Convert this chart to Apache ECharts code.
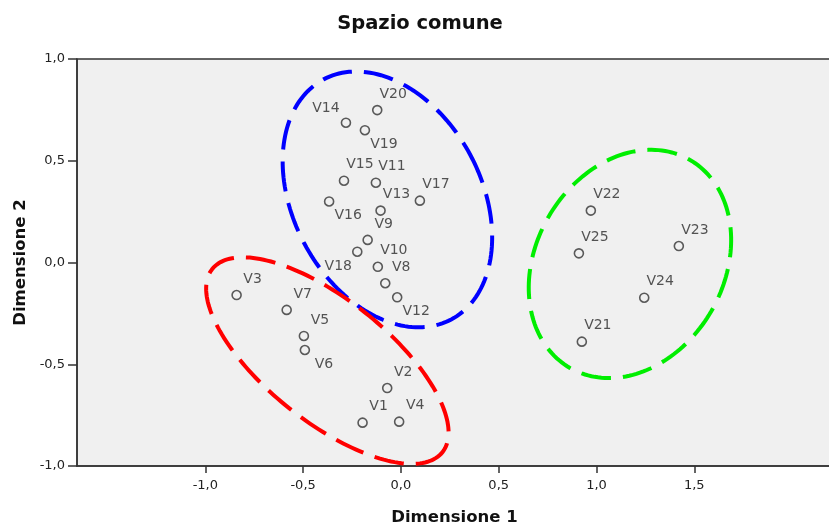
<!DOCTYPE html>
<html>
<head>
<meta charset="utf-8">
<script src="https://cdn.jsdelivr.net/npm/echarts@6/dist/echarts.min.js"></script>
<style>
  html, body { margin: 0; padding: 0; background: #fff; }
  #main { width: 829px; height: 526px; }
</style>
</head>
<body>
<div id="main"></div>
<script>
// stimoli (V1..V25) e coordinate nello spazio comune
let names = ['V1','V2','V3','V4','V5','V6','V7','V8','V9','V10','V11','V12','V13',
             'V14','V15','V16','V17','V18','V19','V20','V21','V22','V23','V24','V25'];
let dim1 = [-0.196, -0.070, -0.840, -0.009, -0.496, -0.491, -0.584, -0.080, -0.170, -0.118,
            -0.128, -0.019, -0.104, -0.281, -0.291, -0.367,  0.097, -0.223, -0.184, -0.121,
             0.925,  0.971,  1.421,  1.244,  0.910];
let dim2 = [-0.787, -0.617, -0.160, -0.782, -0.361, -0.430, -0.233, -0.102,  0.111, -0.021,
             0.392, -0.171,  0.255,  0.687,  0.402,  0.300,  0.304,  0.053,  0.650,  0.749,
            -0.389,  0.255,  0.081, -0.173,  0.045];
let xTicks = [-1.0, -0.5, 0.0, 0.5, 1.0, 1.5];

// dove mettere l'etichetta (ur = sopra a destra ecc.)
let labelWhere = {V14: 'ul', V19: 'lr', V16: 'lr', V18: 'll', V12: 'lr', V6: 'lr'};
let offsets = {ur: [16, -16], ul: [-20, -14], lr: [19, 14], ll: [-19, 15]};

// gruppi cerchiati: centro, semiassi (in unita' degli assi), rotazione in gradi
let groupCx  = [-0.069, -0.376, 1.171];
let groupCy  = [ 0.310, -0.482, -0.007];
let groupRx  = [ 0.481,  0.752, 0.481];
let groupRy  = [ 0.668,  0.300, 0.590];
let groupRot = [-28, 38.5, 30];
let groupColor = ['#0000ff', '#ff0000', '#00ee00'];

let points = [];
for (let i = 0; i < names.length; i++) {
    let where = labelWhere[names[i]] || 'ur';
    points.push({
        name: names[i],
        value: [dim1[i], dim2[i]],
        label: { offset: offsets[where] }
    });
}

let groups = [];
for (let i = 0; i < groupCx.length; i++) {
    groups.push([groupCx[i], groupCy[i]]);
}

function fmt(v) {
    return v.toFixed(1).replace('.', ',');
}

function drawEllipse(params, api) {
    let i = params.dataIndex;
    let c = api.coord([api.value(0), api.value(1)]);
    let rx = api.size([groupRx[i], 0])[0];
    let ry = api.size([0, groupRy[i]])[1];
    let th = groupRot[i] * Math.PI / 180;
    let pts = [];
    for (let k = 0; k < 180; k++) {
        let t = k / 180 * Math.PI * 2;
        let px = rx * Math.cos(t), py = ry * Math.sin(t);
        pts.push([c[0] + px * Math.cos(th) - py * Math.sin(th),
                  c[1] + px * Math.sin(th) + py * Math.cos(th)]);
    }
    return {
        type: 'polygon',
        shape: { points: pts },
        style: { fill: 'none', stroke: groupColor[i], lineWidth: 4, lineDash: [30, 12] }
    };
}

let font = 'DejaVu Sans';
let chart = echarts.init(document.getElementById('main'));
let option = {
    animation: false,
    backgroundColor: '#ffffff',
    title: {
        text: 'Spazio comune',
        left: 415,
        textAlign: 'center',
        top: 9,
        textStyle: { fontFamily: font, fontWeight: 'bold', fontSize: 19.5, color: '#111' }
    },
    grid: {
        left: 77, right: -3, top: 59, bottom: 60,
        outerBoundsMode: 'none',
        show: true, backgroundColor: '#f0f0f0', borderColor: '#333', borderWidth: 1.5
    },
    xAxis: {
        type: 'value',
        min: -1.656, max: 2.204,
        name: 'Dimensione 1',
        nameLocation: 'middle',
        nameGap: 43,
        nameTextStyle: { fontFamily: font, fontWeight: 'bold', fontSize: 16.5, color: '#111' },
        axisLine: { onZero: false, lineStyle: { color: '#333', width: 1.5 } },
        axisTick: { customValues: xTicks, length: 7, lineStyle: { color: '#333', width: 1.5 } },
        axisLabel: {
            customValues: xTicks, formatter: fmt, margin: 13,
            fontFamily: font, fontSize: 13, color: '#222'
        },
        splitLine: { show: false }
    },
    yAxis: {
        type: 'value',
        min: -1, max: 1, interval: 0.5,
        name: 'Dimensione 2',
        nameLocation: 'middle',
        nameGap: 45,
        nameTextStyle: { fontFamily: font, fontWeight: 'bold', fontSize: 16.5, color: '#111' },
        axisLine: { onZero: false, lineStyle: { color: '#333', width: 1.5 } },
        axisTick: { length: 9, lineStyle: { color: '#333', width: 1.5 } },
        axisLabel: { formatter: fmt, margin: 12, fontFamily: font, fontSize: 13, color: '#222' },
        splitLine: { show: false }
    },
    series: [
        {
            type: 'custom',
            coordinateSystem: 'cartesian2d',
            renderItem: drawEllipse,
            data: groups,
            silent: true,
            z: 1
        },
        {
            type: 'scatter',
            data: points,
            symbol: 'circle',
            symbolSize: 9,
            itemStyle: { color: 'rgba(0,0,0,0)', borderColor: '#333', borderWidth: 1.6 },
            label: {
                show: true,
                formatter: '{b}',
                position: 'inside',
                align: 'center',
                verticalAlign: 'middle',
                fontFamily: font,
                fontSize: 14,
                color: '#2a2a2a'
            },
            z: 2
        }
    ]
};
chart.setOption(option);
</script>
</body>
</html>
